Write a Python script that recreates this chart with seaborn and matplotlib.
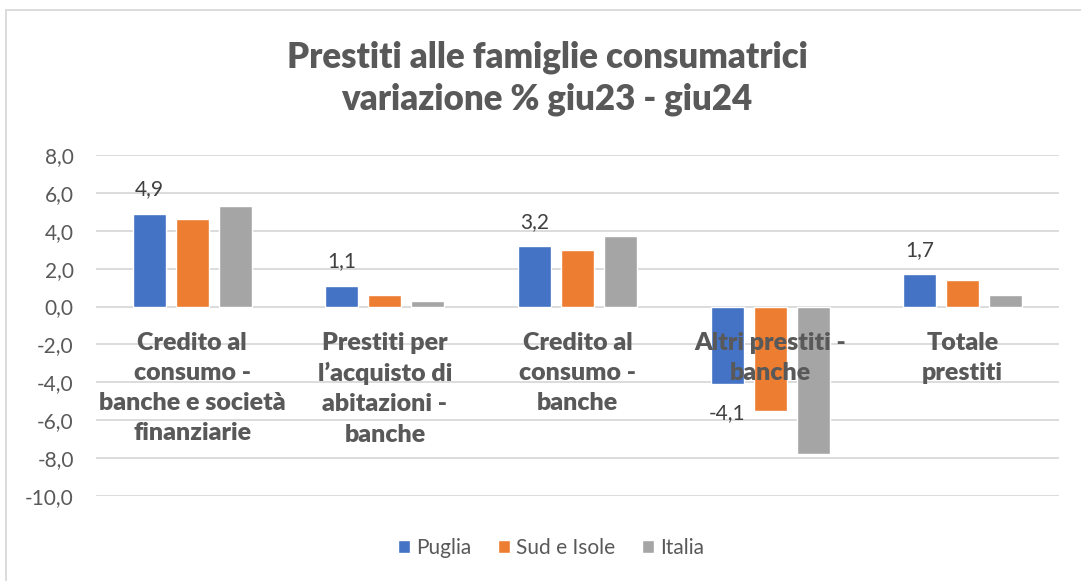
import numpy as np
import pandas as pd
import matplotlib
matplotlib.use("Agg")
import matplotlib.pyplot as plt
import matplotlib.transforms as mtransforms
from matplotlib.patches import Rectangle
import seaborn as sns

# data
categories = [
    "Credito al\nconsumo -\nbanche e società\nfinanziarie",
    "Prestiti per\nl’acquisto di\nabitazioni -\nbanche",
    "Credito al\nconsumo -\nbanche",
    "Altri prestiti -\nbanche",
    "Totale\nprestiti",
]
series_names = ["Puglia", "Sud e Isole", "Italia"]
puglia = [4.9, 1.1, 3.2, -4.1, 1.7]
sud_isole = [4.6, 0.6, 3.0, -5.5, 1.4]
italia = [5.3, 0.3, 3.7, -7.8, 0.6]
y_ticks = [8, 6, 4, 2, 0, -2, -4, -6, -8, -10]

colors = ["#4472C4", "#ED7D31", "#A5A5A5"]
text_grey = "#595959"
grid_grey = "#D9D9D9"

df = pd.DataFrame({
    "cat": categories * 3,
    "serie": np.repeat(series_names, len(categories)),
    "val": puglia + sud_isole + italia,
})

sns.set_theme(style="white")
plt.rcParams["font.family"] = ["Lato", "DejaVu Sans"]

W, H = 1081, 581
fig = plt.figure(figsize=(W / 100, H / 100), dpi=100)
ax = fig.add_axes([96 / W, 1 - 496 / H, (1059 - 96) / W, (496 - 155) / H])

sns.barplot(
    data=df, x="cat", y="val", hue="serie", palette=colors,
    width=0.67, gap=0.23, ax=ax, legend=True, saturation=1,
)

ax.set_ylim(-10, 8)
ax.set_yticks(y_ticks)
ax.set_yticklabels([f"{t:.1f}".replace(".", ",") for t in y_ticks],
                   fontsize=15, color=text_grey)
ax.yaxis.grid(True, color=grid_grey, linewidth=1.3)
ax.set_axisbelow(True)
ax.tick_params(axis="y", length=0, pad=16)
ax.tick_params(axis="x", length=0, labelbottom=False)
ax.set_xlabel("")
ax.set_ylabel("")
for s in ax.spines.values():
    s.set_visible(False)

# category labels next to the zero line
offset = mtransforms.offset_copy(ax.transData, fig=fig, x=0, y=-25, units="dots")
for i, c in enumerate(categories):
    ax.text(i, 0, c, transform=offset, ha="center", va="top", fontsize=18,
            fontweight="heavy", color=text_grey, linespacing=1.45, zorder=5)

# data labels only on Puglia bars
puglia_bars = ax.containers[0]
for bar, v in zip(puglia_bars, puglia):
    x = bar.get_x() + bar.get_width() / 2
    dy = 17.5 if v >= 0 else -21
    ax.annotate(f"{v:.1f}".replace(".", ","), (x, v), xytext=(0, dy),
                textcoords="offset points", ha="center", va="center",
                fontsize=15, color="#404040")

leg = ax.legend(loc="center", bbox_to_anchor=(551 / W, 1 - 548 / H),
                bbox_transform=fig.transFigure, ncol=3, frameon=False,
                fontsize=15, handlelength=0.55, handleheight=0.55,
                handletextpad=0.3, columnspacing=1.3)
for t in leg.get_texts():
    t.set_color(text_grey)

fig.text(547 / W, 1 - 78.5 / H,
         "Prestiti alle famiglie consumatrici\nvariazione % giu23 - giu24",
         ha="center", va="center", fontsize=25, fontweight="heavy",
         color=text_grey, linespacing=1.3)

fig.patches.append(Rectangle((6 / W, -0.05), 1.2, 1 - 10 / H + 0.05,
                             transform=fig.transFigure, fill=False,
                             edgecolor=grid_grey, linewidth=1.3))

fig.savefig("out.png", dpi=100)
